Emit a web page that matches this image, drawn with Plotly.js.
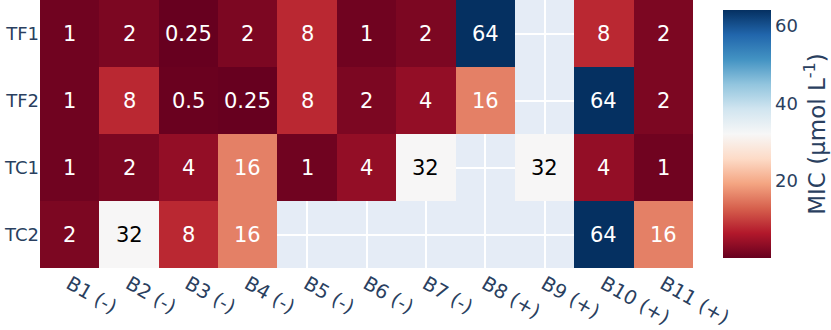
<!DOCTYPE html>
<html>
<head>
<meta charset="utf-8">
<script src="https://cdn.plot.ly/plotly-3.0.1.min.js"></script>
<style>
  body { margin: 0; }
  #plot { width: 831px; height: 330px; }
</style>
</head>
<body>
<div id="plot"></div>
<script>
// bacteria strains along the x axis, compounds down the y axis
let strains = ["B1 (-)", "B2 (-)", "B3 (-)", "B4 (-)", "B5 (-)", "B6 (-)",
               "B7 (-)", "B8 (+)", "B9 (+)", "B10 (+)", "B11 (+)"];
let compounds = ["TF1", "TF2", "TC1", "TC2"];

// MIC values, null where nothing was measured
let micTF1 = [1, 2, 0.25, 2, 8, 1, 2, 64, null, 8, 2];
let micTF2 = [1, 8, 0.5, 0.25, 8, 2, 4, 16, null, 64, 2];
let micTC1 = [1, 2, 4, 16, 1, 4, 32, null, 32, 4, 1];
let micTC2 = [2, 32, 8, 16, null, null, null, null, null, 64, 16];

let mic = [micTF1, micTF2, micTC1, micTC2];

// RdBu diverging scale, red for low values
let rdbu = ["rgb(103,0,31)", "rgb(178,24,43)", "rgb(214,96,77)", "rgb(244,165,130)",
            "rgb(253,219,199)", "rgb(247,247,247)", "rgb(209,229,240)", "rgb(146,197,222)",
            "rgb(67,147,195)", "rgb(33,102,172)", "rgb(5,48,97)"];
let colorscale = rdbu.map((c, i) => [i / (rdbu.length - 1), c]);

let fontFamily = "DejaVu Sans, Verdana, sans-serif";

let trace = {
    type: "heatmap",
    x: strains,
    y: compounds,
    z: mic,
    zmin: 0.25,
    zmax: 64,
    colorscale: colorscale,
    hoverongaps: false,
    colorbar: {
        x: 1.031,
        title: { text: "MIC (μmol L<sup>-1</sup>)", side: "right", font: { size: 23 } },
        tickfont: { size: 18 },
        tickvals: [20, 40, 60],
        outlinewidth: 0,
        thickness: 48
    }
};

// cell labels: black on the pale middle of the scale, white elsewhere
let annotations = [];
mic.forEach((row, i) => {
    row.forEach((v, j) => {
        if (v === null) return;
        annotations.push({
            x: strains[j],
            y: compounds[i],
            text: String(v),
            showarrow: false,
            font: { size: 21, family: fontFamily, color: Math.abs(v - 32) < 10 ? "black" : "white" }
        });
    });
});

let layout = {
    width: 831,
    height: 330,
    margin: { l: 40, r: 138, t: 0, b: 62, autoexpand: false },
    font: { family: fontFamily, size: 18, color: "#2a3f5f" },
    paper_bgcolor: "white",
    plot_bgcolor: "#E5ECF6",
    annotations: annotations,
    xaxis: {
        tickangle: 30,
        tickfont: { size: 19.5 },
        gridcolor: "white",
        gridwidth: 2,
        showline: false,
        ticks: ""
    },
    yaxis: {
        autorange: "reversed",
        gridcolor: "white",
        gridwidth: 2,
        showline: false,
        ticks: ""
    }
};

Plotly.newPlot("plot", [trace], layout, { displayModeBar: false });
</script>
</body>
</html>
